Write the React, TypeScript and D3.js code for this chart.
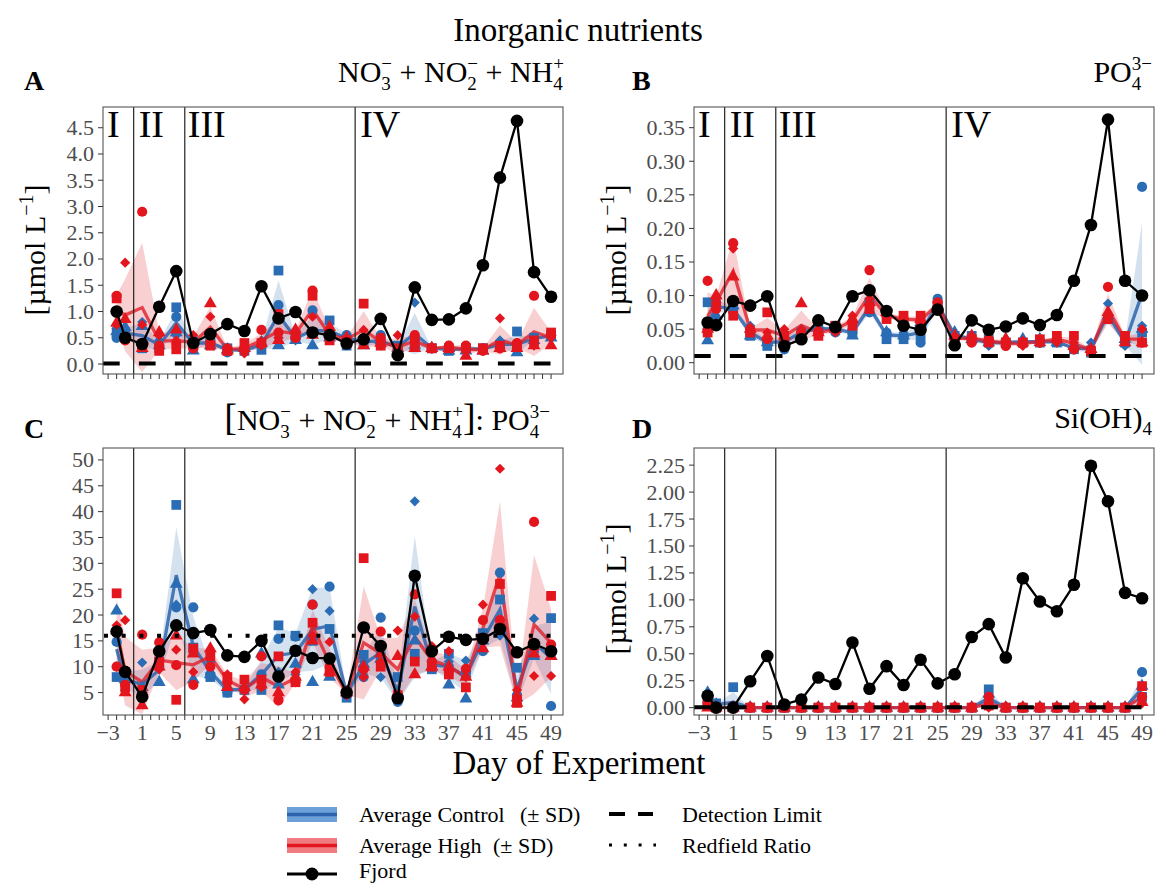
import React from "react";
import * as d3 from "d3";

const FONT = "'Liberation Serif', 'Times New Roman', Times, serif";
const BLUE = "#2a6db4";
const RED = "#e3161e";
const BLUE_LINE = "#2d64ad";
const RED_LINE = "#df1f2a";
const TICK_COL = "#4d4d4d";

// sampling days
const DAYS = [-2, -1, 1, 3, 5, 7, 9, 11, 13, 15, 17, 19, 21, 23, 25, 27, 29, 31, 33, 35, 37, 39, 41, 43, 45, 47, 49];
const X_TICK_LABELS = [-3, 1, 5, 9, 13, 17, 21, 25, 29, 33, 37, 41, 45, 49];
const X_MINOR = d3.range(-3, 50, 1);
const PHASE_BREAKS = [0, 6, 26];
const PHASE_NAMES = ["I", "II", "III", "IV"];
const PHASE_STARTS = [-3.6, 0, 6, 26];
const X_DOMAIN: [number, number] = [-3.6, 50.4];

// Fjord series
const A_FJORD = [1.0, 0.5, 0.38, 1.09, 1.77, 0.4, 0.57, 0.76, 0.63, 1.48, 0.87, 0.99, 0.6, 0.55, 0.39, 0.47, 0.86, 0.17, 1.46, 0.84, 0.85, 1.06, 1.88, 3.55, 4.63, 1.75, 1.28];
const B_FJORD = [0.06, 0.056, 0.092, 0.085, 0.099, 0.025, 0.035, 0.063, 0.053, 0.099, 0.108, 0.077, 0.055, 0.049, 0.079, 0.026, 0.063, 0.049, 0.054, 0.066, 0.056, 0.071, 0.122, 0.205, 0.362, 0.122, 0.1];
const C_FJORD = [16.8, 9.0, 4.2, 13.0, 18.0, 16.5, 17.1, 12.2, 11.9, 15.0, 8.1, 13.1, 11.7, 11.6, 5.0, 17.6, 14.0, 3.9, 27.6, 13.0, 15.8, 15.2, 15.4, 17.3, 12.8, 14.4, 13.0];
const D_FJORD = [0.11, 0.0, 0.0, 0.245, 0.48, 0.03, 0.075, 0.28, 0.22, 0.605, 0.175, 0.385, 0.21, 0.445, 0.225, 0.31, 0.655, 0.775, 0.465, 1.2, 0.985, 0.895, 1.14, 2.245, 1.915, 1.065, 1.015];

// Mesocosms per day: [circle, square, triangle, diamond]
const A_CTRL = [
  [0.5, 0.6, 0.62, 0.68], [0.55, 0.6, 0.7, 0.5], [0.35, 0.3, 0.72, 0.8], [0.35, 0.3, 0.35, 0.45],
  [0.9, 1.08, 0.6, 0.55], [0.45, 0.4, 0.25, 0.5], [0.45, 0.4, 0.35, 0.4], [0.22, 0.3, 0.28, 0.3],
  [0.25, 0.25, 0.3, 0.25], [0.35, 0.27, 0.4, 0.45], [1.12, 1.78, 0.35, 0.5], [0.5, 0.55, 0.45, 0.45],
  [1.02, 0.6, 0.35, 0.6], [0.55, 0.83, 0.5, 0.65], [0.55, 0.35, 0.5, 0.55], [0.45, 0.4, 0.35, 0.5],
  [0.55, 0.4, 0.45, 0.35], [0.3, 0.35, 0.3, 0.35], [0.4, 0.4, 0.35, 1.17], [0.3, 0.3, 0.3, 0.3],
  [0.3, 0.25, 0.25, 0.3], [0.3, 0.3, 0.25, 0.3], [0.3, 0.3, 0.25, 0.3], [0.4, 0.35, 0.3, 0.45],
  [0.3, 0.62, 0.22, 0.35], [0.5, 0.5, 0.45, 0.5], [0.55, 0.55, 0.5, 0.55],
];
const A_HIGH = [
  [1.3, 1.25, 0.78, 0.75], [0.45, 0.5, 0.85, 1.93], [2.9, 0.35, 0.3, 0.75], [0.35, 0.25, 0.6, 0.55],
  [0.4, 0.28, 0.65, 0.45], [0.3, 0.35, 0.45, 0.55], [0.4, 0.35, 1.15, 0.9], [0.3, 0.25, 0.25, 0.3],
  [0.3, 0.4, 0.3, 0.2], [0.65, 0.4, 0.4, 0.35], [0.6, 0.95, 0.45, 0.5], [0.5, 0.55, 0.65, 0.6],
  [1.4, 1.3, 0.55, 0.9], [0.5, 0.45, 0.7, 0.55], [0.45, 0.45, 0.5, 0.5], [0.45, 1.15, 0.35, 0.65],
  [0.5, 0.35, 0.4, 0.45], [0.25, 0.3, 0.2, 0.55], [0.55, 0.4, 0.3, 0.5], [0.3, 0.3, 0.3, 0.3],
  [0.35, 0.3, 0.3, 0.35], [0.35, 0.3, 0.15, 0.3], [0.25, 0.3, 0.25, 0.3], [0.3, 0.35, 0.3, 0.87],
  [0.4, 0.35, 0.3, 0.4], [1.3, 0.45, 0.35, 0.35], [0.55, 0.6, 0.35, 0.5],
];
const B_CTRL = [
  [0.05, 0.09, 0.033, 0.05], [0.09, 0.085, 0.07, 0.09], [0.08, 0.08, 0.085, 0.075], [0.045, 0.04, 0.04, 0.055],
  [0.03, 0.025, 0.03, 0.035], [0.02, 0.03, 0.035, 0.04], [0.045, 0.045, 0.04, 0.05], [0.05, 0.05, 0.055, 0.05],
  [0.045, 0.055, 0.05, 0.05], [0.045, 0.045, 0.04, 0.05], [0.075, 0.09, 0.075, 0.09], [0.045, 0.035, 0.045, 0.04],
  [0.04, 0.035, 0.04, 0.045], [0.03, 0.04, 0.06, 0.05], [0.095, 0.085, 0.08, 0.09], [0.04, 0.04, 0.045, 0.04],
  [0.035, 0.04, 0.035, 0.03], [0.03, 0.035, 0.03, 0.025], [0.03, 0.03, 0.035, 0.025], [0.03, 0.03, 0.035, 0.03],
  [0.03, 0.03, 0.035, 0.03], [0.035, 0.03, 0.03, 0.03], [0.02, 0.02, 0.025, 0.02], [0.02, 0.015, 0.02, 0.03],
  [0.065, 0.065, 0.07, 0.088], [0.03, 0.03, 0.035, 0.025], [0.262, 0.045, 0.05, 0.055],
];
const B_HIGH = [
  [0.122, 0.045, 0.05, 0.06], [0.08, 0.085, 0.1, 0.095], [0.178, 0.07, 0.128, 0.17], [0.05, 0.045, 0.05, 0.05],
  [0.035, 0.075, 0.04, 0.045], [0.03, 0.04, 0.04, 0.05], [0.045, 0.04, 0.088, 0.05], [0.045, 0.04, 0.045, 0.05],
  [0.05, 0.055, 0.05, 0.045], [0.06, 0.055, 0.065, 0.07], [0.138, 0.08, 0.09, 0.095], [0.07, 0.065, 0.075, 0.07],
  [0.065, 0.07, 0.06, 0.065], [0.06, 0.07, 0.065, 0.06], [0.09, 0.085, 0.08, 0.09], [0.035, 0.035, 0.04, 0.035],
  [0.03, 0.035, 0.04, 0.04], [0.035, 0.03, 0.035, 0.03], [0.025, 0.03, 0.035, 0.025], [0.03, 0.03, 0.03, 0.025],
  [0.03, 0.035, 0.03, 0.03], [0.035, 0.04, 0.035, 0.03], [0.02, 0.04, 0.025, 0.03], [0.015, 0.018, 0.02, 0.02],
  [0.113, 0.065, 0.075, 0.07], [0.035, 0.04, 0.03, 0.035], [0.03, 0.03, 0.03, 0.05],
];
const C_CTRL = [
  [14.8, 8, 20.8, 10], [8, 9, 7.5, 5.5], [4.5, 5, 6, 10.8], [10, 11, 7, 9.5],
  [21.5, 41.3, 26, 22], [21.5, 13.7, 7.5, 13], [8.5, 8, 8.5, 11], [5, 5, 6, 6],
  [5.5, 5.5, 6, 5.5], [8.5, 5.5, 12.5, 7.5], [15.4, 18, 6.5, 9], [15.8, 16, 10.5, 8.5],
  [22, 15, 7, 25], [25.5, 17.3, 8, 20.8], [4.5, 4, 5, 5.5], [8, 12.3, 10.5, 11],
  [19.5, 12, 11.5, 8], [3.2, 8, 5, 4.5], [17, 12.5, 15, 42], [11, 9.5, 10, 11],
  [10, 12.5, 6.5, 11], [9, 8.5, 3.8, 11.2], [13, 16.5, 15, 16.5], [28.2, 23, 17, 16],
  [4.5, 9.8, 4, 4.5], [14, 13.5, 12, 19.3], [2.4, 19.4, 12, 13],
];
const C_HIGH = [
  [10, 24.2, 17, 18], [6.5, 6, 5, 19], [16.2, 5.5, 2.5, 4], [14.7, 11, 10, 9.5],
  [10.3, 3.6, 16, 13.3], [6.5, 13.5, 12.5, 9], [10, 12, 13.5, 12.5], [7, 8, 6, 8.5],
  [5.5, 7.5, 6, 3.7], [12, 7.5, 6.5, 6], [3.5, 12, 5, 4], [7, 7, 8, 9],
  [22, 18.5, 15, 16], [10, 9, 9, 14.8], [5, 5, 5, 4.5], [9.5, 31, 10, 8],
  [16.8, 10, 12.5, 11], [4.5, 4.5, 12, 17], [24, 11, 8.5, 19.7], [11, 10, 10, 14],
  [9, 8.5, 10, 13], [9.6, 6, 8, 8], [19, 15.5, 13.5, 22], [19, 26, 18.5, 48.3],
  [4, 3, 3, 5.5], [38, 14, 12.5, 8.2], [14.3, 23.7, 12, 8.2],
];
const D_CTRL = [
  [0.05, 0.05, 0.14, 0.03], [0.02, 0.04, 0.03, 0.02], [0.01, 0.19, 0, 0], [0, 0, 0, 0],
  [0, 0, 0, 0], [0, 0, 0, 0], [0, 0, 0, 0], [0, 0, 0, 0],
  [0, 0, 0, 0], [0, 0, 0, 0], [0, 0, 0, 0], [0, 0, 0, 0],
  [0, 0, 0, 0], [0, 0, 0, 0], [0, 0, 0, 0], [0, 0, 0, 0],
  [0, 0, 0, 0], [0.03, 0.17, 0.13, 0.02], [0, 0, 0, 0], [0, 0, 0, 0],
  [0, 0, 0, 0], [0, 0, 0, 0], [0, 0, 0, 0], [0, 0, 0, 0],
  [0, 0, 0, 0], [0, 0, 0, 0], [0.33, 0.1, 0.2, 0.08],
];
const D_HIGH = [
  [0.04, 0.03, 0, 0.02], [0, 0, 0, 0], [0, 0, 0, 0], [0, 0, 0, 0],
  [0, 0, 0, 0], [0, 0, 0, 0], [0, 0, 0, 0], [0, 0, 0, 0],
  [0, 0, 0, 0], [0, 0, 0, 0], [0, 0, 0, 0], [0, 0, 0, 0],
  [0, 0, 0, 0], [0, 0, 0, 0], [0, 0, 0, 0], [0, 0, 0, 0],
  [0, 0, 0, 0], [0.1, 0.02, 0.03, 0], [0, 0, 0, 0], [0, 0, 0, 0],
  [0, 0, 0, 0], [0, 0, 0, 0], [0, 0, 0, 0], [0, 0, 0, 0],
  [0, 0, 0, 0], [0, 0, 0, 0], [0.1, 0.2, 0.05, 0.04],
];

const A_TICKS = d3.range(0, 4.51, 0.5);
const B_TICKS = d3.range(0, 0.351, 0.05);
const C_TICKS = d3.range(5, 50.1, 5);
const D_TICKS = d3.range(0, 2.251, 0.25);

const PW = 460;
const PH = 267;

type Spec = {
  id: string; left: number; top: number; yDomain: [number, number]; ticks: number[]; fmt: (v: number) => string;
  fjord: number[]; ctrl: number[][]; high: number[][]; ref: number; refKind: "dash" | "dot";
  xLabels: boolean; phases: boolean;
};

const PANELS: Spec[] = [
  { id: "A", left: 103, top: 107, yDomain: [-0.19, 4.895], ticks: A_TICKS, fmt: d3.format(".1f"), fjord: A_FJORD, ctrl: A_CTRL, high: A_HIGH, ref: 0.01, refKind: "dash", xLabels: false, phases: true },
  { id: "B", left: 694, top: 107, yDomain: [-0.0168, 0.3808], ticks: B_TICKS, fmt: d3.format(".2f"), fjord: B_FJORD, ctrl: B_CTRL, high: B_HIGH, ref: 0.01, refKind: "dash", xLabels: false, phases: true },
  { id: "C", left: 103, top: 448, yDomain: [0.66, 52.31], ticks: C_TICKS, fmt: d3.format("d"), fjord: C_FJORD, ctrl: C_CTRL, high: C_HIGH, ref: 16, refKind: "dot", xLabels: true, phases: false },
  { id: "D", left: 694, top: 448, yDomain: [-0.068, 2.409], ticks: D_TICKS, fmt: d3.format(".2f"), fjord: D_FJORD, ctrl: D_CTRL, high: D_HIGH, ref: 0.003, refKind: "dash", xLabels: true, phases: false },
];

const diamondType = {
  draw(ctx: any, size: number) {
    const r = Math.sqrt(size / 2);
    ctx.moveTo(0, -r); ctx.lineTo(r, 0); ctx.lineTo(0, r); ctx.lineTo(-r, 0); ctx.closePath();
  },
};
const SHAPES: any[] = [d3.symbolCircle, d3.symbolSquare, d3.symbolTriangle, diamondType];
const SIZES = [82, 95, 72, 52];

type St = { day: number; mean: number; sd: number };
function stats(rows: number[][]): St[] {
  return rows.map((r, i) => ({ day: DAYS[i], mean: d3.mean(r) as number, sd: (d3.deviation(r) as number) || 0 }));
}

function Panel({ p }: { p: Spec }) {
  const x = d3.scaleLinear().domain(X_DOMAIN).range([p.left, p.left + PW]);
  const y = d3.scaleLinear().domain(p.yDomain).range([p.top + PH, p.top]);
  const cs = stats(p.ctrl);
  const hs = stats(p.high);
  const area = d3.area<St>().x((d) => x(d.day)).y0((d) => y(d.mean - d.sd)).y1((d) => y(d.mean + d.sd));
  const line = d3.line<St>().x((d) => x(d.day)).y((d) => y(d.mean));
  const fj = d3.line<number>().x((_, i) => x(DAYS[i])).y((d) => y(d));
  const clip = `clip${p.id}`;
  const bottom = p.top + PH;
  const pts = (rows: number[][], color: string) =>
    rows.flatMap((r, i) =>
      r.map((v, k) => (
        <path key={`${color}${i}-${k}`} d={d3.symbol().type(SHAPES[k]).size(SIZES[k])() as string}
          transform={`translate(${x(DAYS[i])},${y(v)})`} fill={color} />
      ))
    );
  return (
    <g>
      <defs>
        <clipPath id={clip}><rect x={p.left} y={p.top} width={PW} height={PH} /></clipPath>
      </defs>
      <g clipPath={`url(#${clip})`}>
        <path d={area(cs) as string} fill={BLUE} fillOpacity={0.2} />
        <path d={area(hs) as string} fill={RED} fillOpacity={0.2} />
        <path d={line(cs) as string} fill="none" stroke={BLUE_LINE} strokeWidth={3.3} strokeOpacity={0.85} />
        <path d={line(hs) as string} fill="none" stroke={RED_LINE} strokeWidth={3.3} strokeOpacity={0.8} />
        {pts(p.ctrl, BLUE)}
        {pts(p.high, RED)}
        {p.refKind === "dash" ? (
          <line x1={p.left} x2={p.left + PW} y1={y(p.ref)} y2={y(p.ref)} stroke="#000" strokeWidth={4} strokeDasharray="16.7 19.2" />
        ) : (
          <line x1={p.left + 1} x2={p.left + PW} y1={y(p.ref)} y2={y(p.ref)} stroke="#000" strokeWidth={4} strokeDasharray="4 13.7" />
        )}
        <path d={fj(p.fjord) as string} fill="none" stroke="#000" strokeWidth={2.3} />
        {p.fjord.map((v, i) => (
          <circle key={`f${i}`} cx={x(DAYS[i])} cy={y(v)} r={6.3} fill="#000" />
        ))}
        {PHASE_BREAKS.map((b) => (
          <line key={`pb${b}`} x1={x(b)} x2={x(b)} y1={p.top} y2={bottom} stroke="#222" strokeWidth={1.2} />
        ))}
      </g>
      <rect x={p.left} y={p.top} width={PW} height={PH} fill="none" stroke="#555" strokeWidth={1.1} />
      {p.phases && PHASE_NAMES.map((n, i) => (
        <text key={n} x={x(PHASE_STARTS[i]) + (i === 0 ? 4 : i === 2 ? 3 : 5)} y={p.top + 30} fontSize={38} fontFamily={FONT} fill="#000">{n}</text>
      ))}
      {p.ticks.map((t) => (
        <g key={`yt${t}`}>
          <line x1={p.left - 5} x2={p.left} y1={y(t)} y2={y(t)} stroke="#333" strokeWidth={1} />
          <text x={p.left - 9} y={y(t)} dy="0.34em" textAnchor="end" fontSize={22} fontFamily={FONT} fill={TICK_COL}>{p.fmt(t)}</text>
        </g>
      ))}
      {X_MINOR.map((t) => (
        <line key={`xt${t}`} x1={x(t)} x2={x(t)} y1={bottom} y2={bottom + 5} stroke="#333" strokeWidth={1} />
      ))}
      {p.xLabels && X_TICK_LABELS.map((t) => (
        <text key={`xl${t}`} x={x(t)} y={bottom + 25} textAnchor="middle" fontSize={22} fontFamily={FONT} fill={TICK_COL}>
          {t < 0 ? `\u2212${Math.abs(t)}` : `${t}`}
        </text>
      ))}
    </g>
  );
}

function YTitle({ x, y }: { x: number; y: number }) {
  return (
    <text transform={`translate(${x},${y}) rotate(-90)`} textAnchor="middle" fontSize={30} fontFamily={FONT} fill="#000">
      [µmol L<tspan dy={-12} fontSize={20}>{"\u22121"}</tspan><tspan dy={12}>]</tspan>
    </text>
  );
}

export default function App() {
  const sub = 19;
  return (
    <svg width={1155} height={884} style={{ display: "block", position: "absolute", left: 0, top: 0, background: "#fff" }} fontFamily={FONT}>
      <rect width={1155} height={884} fill="#fff" />
      <text x={578} y={41} textAnchor="middle" fontSize={33} fill="#000">Inorganic nutrients</text>

      {PANELS.map((p) => <Panel key={p.id} p={p} />)}

      {/* panel tags */}
      <text x={24} y={90} fontSize={28} fontWeight="bold">A</text>
      <text x={632} y={90} fontSize={28} fontWeight="bold">B</text>
      <text x={24} y={438} fontSize={28} fontWeight="bold">C</text>
      <text x={632} y={438} fontSize={28} fontWeight="bold">D</text>

      {/* panel titles */}
      <text x={564} y={82} textAnchor="end" fontSize={30}>
        NO<tspan dy={8} fontSize={sub}>3</tspan><tspan dx={-9.5} dy={-20} fontSize={sub}>{"\u2212"}</tspan>
        <tspan dy={12}> + NO</tspan><tspan dy={8} fontSize={sub}>2</tspan><tspan dx={-9.5} dy={-20} fontSize={sub}>{"\u2212"}</tspan>
        <tspan dy={12}> + NH</tspan><tspan dy={8} fontSize={sub}>4</tspan><tspan dx={-9.5} dy={-20} fontSize={sub}>+</tspan>
      </text>
      <text x={1152} y={82} textAnchor="end" fontSize={30}>
        PO<tspan dy={8} fontSize={sub}>4</tspan><tspan dx={-9.5} dy={-20} fontSize={sub}>{"3\u2212"}</tspan>
      </text>
      <text x={550} y={430} textAnchor="end" fontSize={30}>
        <tspan fontSize={38}>[</tspan>NO<tspan dy={8} fontSize={sub}>3</tspan><tspan dx={-9.5} dy={-20} fontSize={sub}>{"\u2212"}</tspan>
        <tspan dy={12}> + NO</tspan><tspan dy={8} fontSize={sub}>2</tspan><tspan dx={-9.5} dy={-20} fontSize={sub}>{"\u2212"}</tspan>
        <tspan dy={12}> + NH</tspan><tspan dy={8} fontSize={sub}>4</tspan><tspan dx={-9.5} dy={-20} fontSize={sub}>+</tspan>
        <tspan dy={12} fontSize={38}>]</tspan><tspan>: PO</tspan><tspan dy={8} fontSize={sub}>4</tspan><tspan dx={-9.5} dy={-20} fontSize={sub}>{"3\u2212"}</tspan>
      </text>
      <text x={1152} y={428} textAnchor="end" fontSize={30}>
        Si(OH)<tspan dy={7} fontSize={sub}>4</tspan>
      </text>

      <YTitle x={45} y={250} />
      <YTitle x={626} y={250} />
      <YTitle x={626} y={589} />

      <text x={579} y={774} textAnchor="middle" fontSize={33}>Day of Experiment</text>

      {/* legend */}
      <g fontSize={22}>
        <rect x={287} y={807} width={50} height={15} fill="#6ba0d9" />
        <line x1={287} x2={337} y1={814.5} y2={814.5} stroke={BLUE_LINE} strokeWidth={3.5} />
        <text x={359} y={822}>Average Control</text>
        <text x={520} y={822}>(± SD)</text>

        <rect x={287} y={838} width={50} height={15} fill="#f07c82" />
        <line x1={287} x2={337} y1={845.5} y2={845.5} stroke={RED} strokeWidth={3.5} />
        <text x={359} y={853}>Average High</text>
        <text x={493} y={853}>(± SD)</text>

        <line x1={287} x2={337} y1={874} y2={874} stroke="#000" strokeWidth={3} />
        <circle cx={312} cy={874} r={6.5} fill="#000" />
        <text x={359} y={878}>Fjord</text>

        <line x1={609} x2={653} y1={814} y2={814} stroke="#000" strokeWidth={4} strokeDasharray="16 13" />
        <text x={682} y={822}>Detection Limit</text>
        <line x1={609} x2={656} y1={845} y2={845} stroke="#000" strokeWidth={3} strokeDasharray="3 11.8" />
        <text x={682} y={853}>Redfield Ratio</text>
      </g>
    </svg>
  );
}
